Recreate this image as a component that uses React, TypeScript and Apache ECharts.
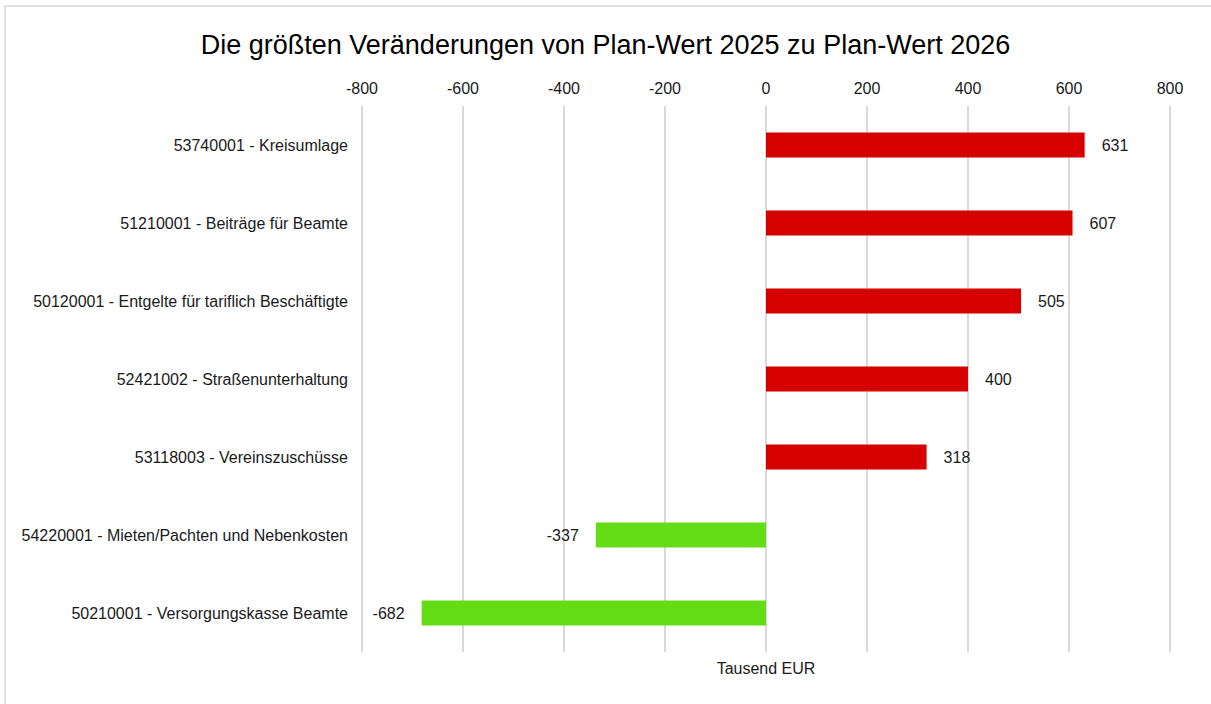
import React, { useEffect, useRef } from "react";
import * as echarts from "echarts";

const categories = [
  "53740001 - Kreisumlage",
  "51210001 - Beiträge für Beamte",
  "50120001 - Entgelte für tariflich Beschäftigte",
  "52421002 - Straßenunterhaltung",
  "53118003 - Vereinszuschüsse",
  "54220001 - Mieten/Pachten und Nebenkosten",
  "50210001 - Versorgungskasse Beamte",
];
const values = [631, 607, 505, 400, 318, -337, -682];
const titleText = "Die größten Veränderungen von Plan-Wert 2025 zu Plan-Wert 2026";
const axisName = "Tausend EUR";
const xMin = -800;
const xMax = 800;
const xInterval = 200;

const RED = "#D50000";
const GREEN = "#64DD17";
const FONT = "Liberation Sans";
const TXT = "#1a1a1a";

export default function App() {
  const ref = useRef<HTMLDivElement>(null);
  useEffect(() => {
    if (!ref.current) return;
    const chart = echarts.init(ref.current, null, { renderer: "svg" });
    chart.setOption({
      animation: false,
      backgroundColor: "#ffffff",
      textStyle: { fontFamily: FONT },
      title: {
        text: titleText,
        left: "center",
        top: 31,
        padding: 0,
        textStyle: { fontFamily: FONT, fontSize: 27, fontWeight: "normal", color: "#000" },
      },
      graphic: [
        {
          type: "rect",
          shape: { x: 5, y: 6, width: 1230, height: 720 },
          style: { fill: "none", stroke: "#d9d9d9", lineWidth: 1.5 },
          silent: true,
          z: -1,
        },
        {
          type: "text",
          x: 766,
          y: 668,
          style: {
            text: axisName,
            fontFamily: FONT,
            fontSize: 16,
            fill: TXT,
            align: "center",
            verticalAlign: "middle",
          },
        },
      ],
      grid: { left: 362, right: 41, top: 106, bottom: 52, containLabel: false },
      xAxis: {
        type: "value",
        position: "top",
        min: xMin,
        max: xMax,
        interval: xInterval,
        axisLine: { show: false },
        axisTick: { show: false },
        axisLabel: { fontFamily: FONT, fontSize: 16, color: TXT, margin: 10 },
        splitLine: { show: true, lineStyle: { color: "#d9d9d9", width: 2 } },
      },
      yAxis: {
        type: "category",
        inverse: true,
        data: categories,
        axisLine: { show: false },
        axisTick: { show: false },
        axisLabel: { fontFamily: FONT, fontSize: 16, color: TXT, margin: 14 },
      },
      series: [
        {
          type: "bar",
          barWidth: 25,
          data: values.map((v) => ({
            value: v,
            itemStyle: { color: v >= 0 ? RED : GREEN },
            label: { position: v >= 0 ? "right" : "left" },
          })),
          label: {
            show: true,
            distance: 17,
            fontFamily: FONT,
            fontSize: 16,
            color: TXT,
          },
        },
      ],
    });
    return () => chart.dispose();
  }, []);
  return (
    <div
      ref={ref}
      style={{ position: "absolute", left: 0, top: 0, width: 1211, height: 704 }}
    />
  );
}
